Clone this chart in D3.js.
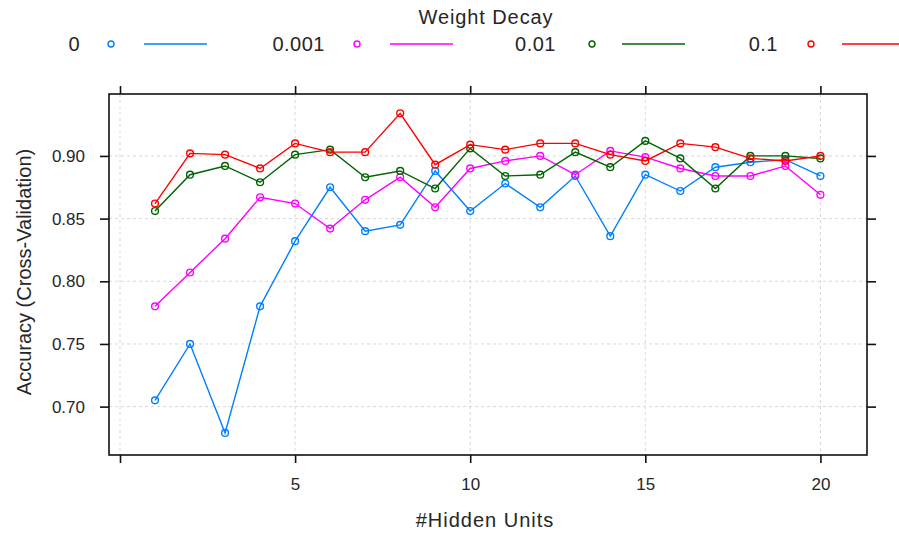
<!DOCTYPE html>
<html><head><meta charset="utf-8">
<script src="https://cdn.jsdelivr.net/npm/d3@7"></script>
<style>body{margin:0;background:#fff}svg{display:block;font-family:"Liberation Sans",Arial,sans-serif}</style>
</head><body>
<svg id="c" width="899" height="533"></svg>
<script>
const hiddenUnits = [1,2,3,4,5,6,7,8,9,10,11,12,13,14,15,16,17,18,19,20];
const decayLabels = ["0","0.001","0.01","0.1"];
const colors = ["#0080ff","#ff00ff","#006400","#ff0000"];
const acc0 = [0.705,0.750,0.679,0.780,0.832,0.875,0.840,0.845,0.888,0.856,0.878,0.859,0.884,0.836,0.885,0.872,0.891,0.895,0.897,0.884];
const acc001 = [0.780,0.807,0.834,0.867,0.862,0.842,0.865,0.883,0.859,0.890,0.896,0.900,0.885,0.904,0.899,0.890,0.884,0.884,0.892,0.869];
const acc01 = [0.856,0.885,0.892,0.879,0.901,0.905,0.883,0.888,0.874,0.906,0.884,0.885,0.903,0.891,0.912,0.898,0.874,0.900,0.900,0.898];
const acc1 = [0.862,0.902,0.901,0.890,0.910,0.903,0.903,0.934,0.893,0.909,0.905,0.910,0.910,0.901,0.896,0.910,0.907,0.898,0.896,0.900];
const seriesValues = [acc0, acc001, acc01, acc1];
const xTicks = [0,5,10,15,20];
const xTickLabels = ["","5","10","15","20"];
const yTicks = [0.70,0.75,0.80,0.85,0.90];
const yTickLabels = ["0.70","0.75","0.80","0.85","0.90"];

const svg = d3.select("#c");
const L = 109, R = 867, T = 94, B = 455;
const x = d3.scaleLinear().domain([-0.314, 21.33]).range([L, R]);
const y = d3.scaleLinear().domain([0.6614, 0.9494]).range([B, T]);
const txt = "#262626";

// grid
const g = svg.append("g");
g.selectAll("line.gx").data(xTicks).join("line")
  .attr("x1", d => x(d)).attr("x2", d => x(d)).attr("y1", T).attr("y2", B)
  .attr("stroke", "#d8d8d8").attr("stroke-dasharray", "3,3");
g.selectAll("line.gy").data(yTicks).join("line")
  .attr("y1", d => y(d)).attr("y2", d => y(d)).attr("x1", L).attr("x2", R)
  .attr("stroke", "#d8d8d8").attr("stroke-dasharray", "3,3");

// axes
const axB = d3.axisBottom(x).tickValues(xTicks).tickFormat((d,i) => xTickLabels[i]).tickSize(8).tickPadding(15);
const axT = d3.axisTop(x).tickValues(xTicks).tickFormat("").tickSize(8);
const axL = d3.axisLeft(y).tickValues(yTicks).tickFormat((d,i) => yTickLabels[i]).tickSize(9).tickPadding(15);
const axR = d3.axisRight(y).tickValues(yTicks).tickFormat("").tickSize(9);
function style(sel){
  sel.select(".domain").remove();
  sel.selectAll(".tick line").attr("stroke", "#111").attr("stroke-width", 1.6);
  sel.selectAll(".tick text").attr("fill", txt).style("font-size", "17px").style("font-family", "Liberation Sans, Arial, sans-serif");
}
svg.append("g").attr("transform", `translate(0,${B})`).call(axB).call(style);
svg.append("g").attr("transform", `translate(0,${T})`).call(axT).call(style);
svg.append("g").attr("transform", `translate(${L},0)`).call(axL).call(style);
svg.append("g").attr("transform", `translate(${R},0)`).call(axR).call(style);

// series
const line = d3.line().x((d,i) => x(hiddenUnits[i])).y(d => y(d));
seriesValues.forEach((vals, k) => {
  svg.append("path").datum(vals).attr("d", line).attr("fill", "none")
    .attr("stroke", colors[k]).attr("stroke-width", 1.4);
  svg.selectAll(null).data(vals).join("circle")
    .attr("cx", (d,i) => x(hiddenUnits[i])).attr("cy", d => y(d)).attr("r", 3.4)
    .attr("fill", "none").attr("stroke", colors[k]).attr("stroke-width", 1.4);
});

// frame
svg.append("rect").attr("x", L).attr("y", T).attr("width", R - L).attr("height", B - T)
  .attr("fill", "none").attr("stroke", "#111").attr("stroke-width", 1.6);

// axis titles
svg.append("text").attr("x", 485).attr("y", 527).attr("text-anchor", "middle")
  .attr("fill", txt).style("font-size", "20px").style("letter-spacing", "1px").text("#Hidden Units");
svg.append("text").attr("transform", `translate(31,272) rotate(-90)`).attr("text-anchor", "middle")
  .attr("fill", txt).style("font-size", "20px").text("Accuracy (Cross-Validation)");

// legend
svg.append("text").attr("x", 486).attr("y", 24).attr("text-anchor", "middle")
  .attr("fill", txt).style("font-size", "20px").style("letter-spacing", "0.9px").text("Weight Decay");
const legLabelRight = [80, 325, 556, 778];
const legCircle = [111, 357, 592, 811];
const legLineStart = [144, 390, 622, 842];
const ly = 44;
decayLabels.forEach((lab, k) => {
  svg.append("text").attr("x", legLabelRight[k]).attr("y", ly + 7).attr("text-anchor", "end")
    .attr("fill", txt).style("font-size", "20px").style("letter-spacing", "0.5px").text(lab);
  svg.append("circle").attr("cx", legCircle[k]).attr("cy", ly).attr("r", 3)
    .attr("fill", "none").attr("stroke", colors[k]).attr("stroke-width", 1.4);
  svg.append("line").attr("x1", legLineStart[k]).attr("x2", legLineStart[k] + 63).attr("y1", ly).attr("y2", ly)
    .attr("stroke", colors[k]).attr("stroke-width", 1.6);
});
</script>
</body></html>
